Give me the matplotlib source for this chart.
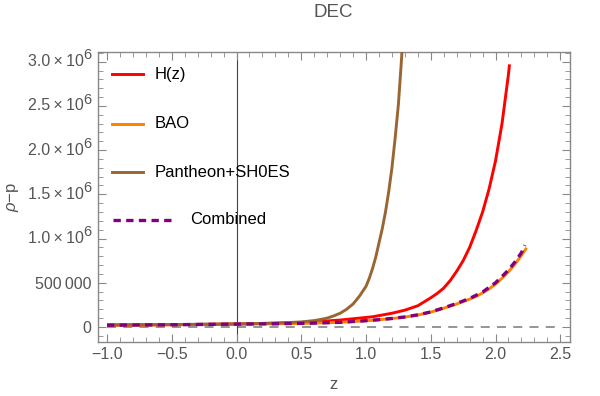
import matplotlib
matplotlib.use("Agg")
import matplotlib.pyplot as plt
from matplotlib.ticker import MultipleLocator, FuncFormatter
from matplotlib.lines import Line2D

plt.rcParams['font.family'] = ['Liberation Sans', 'DejaVu Sans']
plt.rcParams['mathtext.fontset'] = 'custom'
plt.rcParams['mathtext.rm'] = 'Liberation Sans'
plt.rcParams['mathtext.it'] = 'Liberation Sans:italic'

# ---- data (values in units of 1e6) ----
z_h = [-1.0, -0.5, 0.0, 0.3, 0.55, 0.8, 1.05, 1.2, 1.3, 1.4, 1.5, 1.55, 1.6, 1.65,
       1.7, 1.75, 1.8, 1.85, 1.9, 1.95, 2.0, 2.05, 2.1, 2.108]
v_h = [0.022, 0.026, 0.034, 0.042, 0.053, 0.078, 0.115, 0.155, 0.19, 0.24, 0.33,
       0.38, 0.44, 0.525, 0.63, 0.75, 0.90, 1.09, 1.30, 1.56, 1.88, 2.30, 2.86, 2.97]

z_bao = [-1.0, -0.5, 0.0, 0.3, 0.55, 0.8, 1.05, 1.2, 1.3, 1.4, 1.5, 1.6, 1.7, 1.75,
         1.8, 1.85, 1.9, 1.95, 2.0, 2.05, 2.1, 2.15, 2.2, 2.24]
v_bao = [0.020, 0.025, 0.032, 0.036, 0.042, 0.052, 0.075, 0.095, 0.112, 0.135, 0.168,
         0.212, 0.26, 0.288, 0.315, 0.345, 0.385, 0.43, 0.485, 0.55, 0.625, 0.71, 0.81,
         0.895]

z_pan = [-1.0, -0.5, 0.0, 0.2, 0.4, 0.5, 0.6, 0.65, 0.7, 0.75, 0.8, 0.85, 0.9, 0.95,
         1.0, 1.025, 1.05, 1.075, 1.1, 1.125, 1.15, 1.175, 1.2, 1.225, 1.25, 1.275, 1.3]
v_pan = [0.022, 0.027, 0.034, 0.040, 0.050, 0.057, 0.072, 0.085, 0.10, 0.125, 0.155,
         0.20, 0.26, 0.35, 0.46, 0.55, 0.66, 0.79, 0.95, 1.11, 1.30, 1.53, 1.80, 2.14,
         2.52, 3.05, 3.75]

z_comb = [-1.0, -0.5, 0.0, 0.3, 0.55, 0.8, 1.05, 1.2, 1.3, 1.4, 1.5, 1.6, 1.7, 1.8,
          1.9, 2.0, 2.05, 2.1, 2.15, 2.2, 2.227]
v_comb = [0.020, 0.025, 0.032, 0.036, 0.042, 0.052, 0.076, 0.096, 0.113, 0.137, 0.170,
          0.216, 0.266, 0.322, 0.395, 0.50, 0.57, 0.645, 0.735, 0.84, 0.925]

labels = ["H(z)", "BAO", "Pantheon+SH0ES", "Combined"]
colors = ["#FF0000", "#FF8000", "#996633", "#800080"]

fig = plt.figure(figsize=(6.0, 3.96), dpi=100)
ax = fig.add_axes([0.1633, 0.1364, 0.7867, 0.7323])

S = 1e6
ax.plot([-1.0, 2.5], [0, 0], color="#8c8c8c", lw=1.3, dashes=(5, 4), zorder=1)
ax.axvline(0, color="#444444", lw=0.8, zorder=1)

kw = dict(solid_joinstyle="round", solid_capstyle="butt")
ax.plot(z_h, [v * S for v in v_h], color=colors[0], lw=2.1, zorder=3, **kw)
ax.plot(z_bao, [v * S for v in v_bao], color=colors[1], lw=2.1, zorder=3, **kw)
ax.plot(z_pan, [v * S for v in v_pan], color=colors[2], lw=2.1, zorder=3, **kw)
ax.plot(z_comb, [v * S for v in v_comb], color=colors[3], lw=2.4, dashes=(2.2, 1.6),
        zorder=4, dash_joinstyle="round", dash_capstyle="butt")

ax.set_xlim(-1.07, 2.575)
ax.set_ylim(-0.17e6, 3.11e6)

ax.xaxis.set_major_locator(MultipleLocator(0.5))
ax.xaxis.set_minor_locator(MultipleLocator(0.1))
ax.yaxis.set_major_locator(MultipleLocator(0.5e6))
ax.yaxis.set_minor_locator(MultipleLocator(0.1e6))

tick_col = "#555555"
FS = 11.5

def yfmt(v, pos):
    if abs(v) < 1:
        return "0"
    if abs(v - 0.5e6) < 1:
        return "500\u2009000"
    return ""

ax.yaxis.set_major_formatter(FuncFormatter(yfmt))
ax.xaxis.set_major_formatter(FuncFormatter(lambda v, p: ("%.1f" % v).replace("-", "\u2212")))

# y tick labels of form  a.b x 10^6  (drawn as text with a full-size superscript)
big_ticks = [1.0e6, 1.5e6, 2.0e6, 2.5e6, 3.0e6]
for v in big_ticks:
    ax.annotate("6", xy=(0, v), xycoords=("axes fraction", "data"),
                xytext=(-4.5, 4.5), textcoords="offset points", ha="right", va="center",
                fontsize=10.5, color=tick_col, annotation_clip=False)
    ax.annotate("%.1f\u2009\u00d7\u200910" % (v / 1e6), xy=(0, v),
                xycoords=("axes fraction", "data"),
                xytext=(-10.5, 0), textcoords="offset points", ha="right", va="center",
                fontsize=FS, color=tick_col, annotation_clip=False)

for sp in ax.spines.values():
    sp.set_color("#888888")
    sp.set_linewidth(1.0)
ax.tick_params(which="both", direction="in", top=True, right=True, color="#888888",
               labelcolor=tick_col, labelsize=FS)
ax.tick_params(axis="y", which="major", pad=4.5)
ax.tick_params(which="major", length=6, width=0.8)
ax.tick_params(which="minor", length=3.5, width=0.6)

ax.set_xlabel("z", color=tick_col, fontsize=12, labelpad=11)
ax.set_ylabel(r"$\rho$$\mathregular{-p}$", color=tick_col, fontsize=12, labelpad=10)
fig.text(0.556, 0.968, "DEC", ha="center", va="center", fontsize=13.5, color="#555555")

# legend (manual)
leg_y = [0.924, 0.752, 0.586, 0.421]
for i in range(3):
    ax.add_line(Line2D([0.030, 0.095], [leg_y[i]] * 2, transform=ax.transAxes,
                       color=colors[i], lw=2.1, zorder=5))
    ax.text(0.121, leg_y[i], labels[i], transform=ax.transAxes, va="center",
            ha="left", fontsize=12, color="#000000", zorder=5)
ax.add_line(Line2D([0.032, 0.159], [leg_y[3]] * 2, transform=ax.transAxes,
                   color=colors[3], lw=2.4, dashes=(2.2, 1.6), zorder=5))
ax.text(0.195, leg_y[3], labels[3], transform=ax.transAxes, va="center",
        ha="left", fontsize=12, color="#000000", zorder=5)

fig.savefig("out.png", dpi=100)
